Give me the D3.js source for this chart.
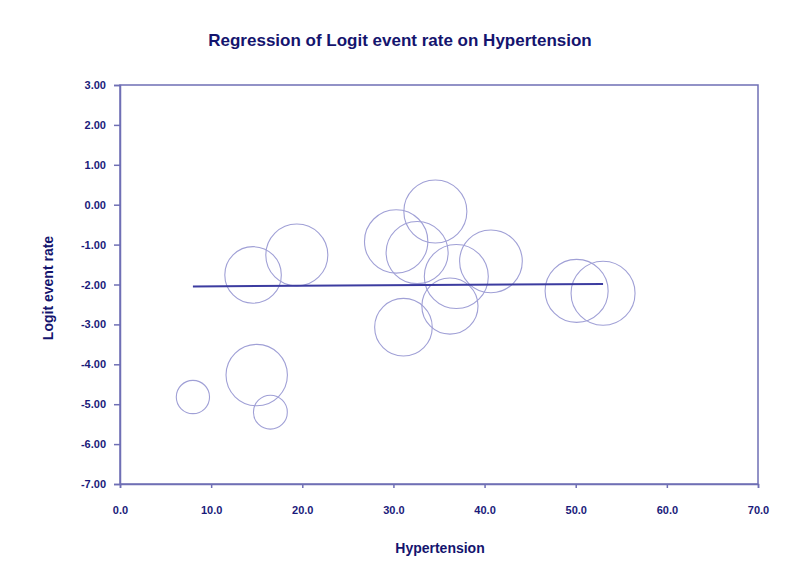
<!DOCTYPE html>
<html>
<head>
<meta charset="utf-8">
<script src="https://cdn.jsdelivr.net/npm/d3@7/dist/d3.min.js"></script>
<style>
  body { margin: 0; background: #fff; }
  text { font-family: "Liberation Sans", Arial, sans-serif; }
</style>
</head>
<body>
<svg id="chart" width="800" height="569"></svg>
<script>
const hypertension = [8.0, 15.0, 16.5, 14.6, 19.4, 34.6, 30.3, 32.6, 36.9, 40.7, 36.2, 31.1, 50.1, 53.0];
const logitRate    = [-4.82, -4.27, -5.20, -1.76, -1.26, -0.17, -0.92, -1.20, -1.80, -1.42, -2.54, -3.07, -2.16, -2.22];
const weights      = [27, 92, 28, 78, 94, 97, 98, 94, 100, 96, 77, 81, 97, 100];
const regX = [8.0, 53.0];
const regIntercept = -2.06;
const regSlope = 0.00134;
const xTicks = [0, 10, 20, 30, 40, 50, 60, 70];
const yTicks = [3, 2, 1, 0, -1, -2, -3, -4, -5, -6, -7];

(function () {
const svg = d3.select("#chart");
const pLeft = 120, pRight = 758, pTop = 85, pBottom = 484;
const x = d3.scaleLinear().domain([0, 70]).range([pLeft, pRight]);
const y = d3.scaleLinear().domain([-7, 3]).range([pBottom, pTop]);
const r = d3.scaleSqrt().domain([0, 100]).range([0, 32]);

const axisColor = "#6f6fb5";
const textColor = "#1a1a7a";
const f2 = d => d3.format(".2f")(d).replace("\u2212", "-");
const f1 = d => d3.format(".1f")(d).replace("\u2212", "-");

// frame
svg.append("rect").attr("x", pLeft).attr("y", pTop)
  .attr("width", pRight - pLeft).attr("height", pBottom - pTop)
  .attr("fill", "none").attr("stroke", axisColor).attr("stroke-width", 1.5);

// y axis
const yAxis = svg.append("g").attr("transform", `translate(${pLeft},0)`)
  .call(d3.axisLeft(y).tickValues(yTicks).tickSize(6).tickPadding(8).tickFormat(f2));
yAxis.select(".domain").attr("stroke", axisColor).attr("stroke-width", 1.5);
yAxis.selectAll(".tick line").attr("stroke", axisColor).attr("stroke-width", 1.5);
yAxis.selectAll(".tick text").attr("fill", textColor).attr("font-size", 11).attr("font-weight", "bold")
  .attr("font-family", "Liberation Sans, Arial, sans-serif");

// x axis
const xAxis = svg.append("g").attr("transform", `translate(0,${pBottom})`)
  .call(d3.axisBottom(x).tickValues(xTicks).tickSize(4).tickPadding(18).tickFormat(f1));
xAxis.select(".domain").attr("stroke", axisColor).attr("stroke-width", 1.5);
xAxis.selectAll(".tick line").attr("stroke", axisColor).attr("stroke-width", 1.5);
xAxis.selectAll(".tick text").attr("fill", textColor).attr("font-size", 11).attr("font-weight", "bold")
  .attr("font-family", "Liberation Sans, Arial, sans-serif");

// bubbles
const data = hypertension.map((h, i) => ({ h, v: logitRate[i], w: weights[i] }));
svg.append("g").selectAll("circle").data(data).join("circle")
  .attr("cx", d => x(d.h)).attr("cy", d => y(d.v)).attr("r", d => r(d.w))
  .attr("fill", "none").attr("stroke", "#a0a0d6").attr("stroke-width", 1.1);

// regression line
svg.append("line")
  .attr("x1", x(regX[0])).attr("y1", y(regIntercept + regSlope * regX[0]))
  .attr("x2", x(regX[1])).attr("y2", y(regIntercept + regSlope * regX[1]))
  .attr("stroke", "#3c3ca0").attr("stroke-width", 2);

// titles
svg.append("text").attr("x", 400).attr("y", 46).attr("text-anchor", "middle")
  .attr("font-size", 17).attr("font-weight", "bold").attr("fill", "#14146e")
  .text("Regression of Logit event rate on Hypertension");
svg.append("text").attr("x", 440).attr("y", 553).attr("text-anchor", "middle")
  .attr("font-size", 14).attr("font-weight", "bold").attr("fill", "#14146e")
  .text("Hypertension");
svg.append("text").attr("transform", "translate(53,288) rotate(-90)").attr("text-anchor", "middle")
  .attr("font-size", 14).attr("font-weight", "bold").attr("fill", "#14146e")
  .text("Logit event rate");
})();
</script>
</body>
</html>
